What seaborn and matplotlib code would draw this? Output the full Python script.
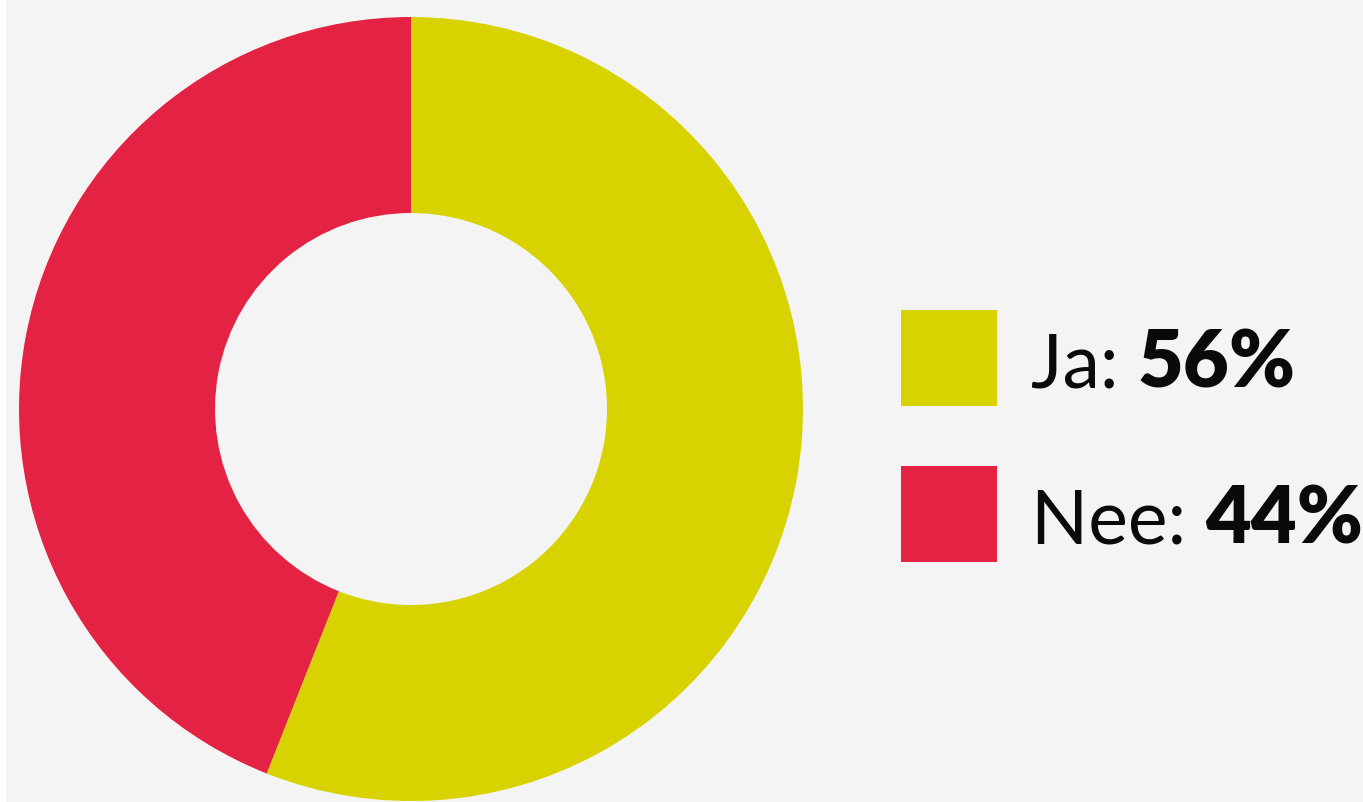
import matplotlib
matplotlib.use("Agg")
import matplotlib.pyplot as plt
import seaborn as sns
from matplotlib.patches import Rectangle

sns.set_theme(style="white")
plt.rcParams['font.family'] = ['Lato', 'DejaVu Sans']

# data
labels = ['Ja', 'Nee']
values = [56, 44]
colors = ['#D8D300', '#E42244']
bg = '#F4F4F4'

W, H = 1363, 802
fig = plt.figure(figsize=(W / 100, H / 100), dpi=100, facecolor=bg)
# white strip at the left edge
fig.patches.append(Rectangle((0, 0), 6 / W, 1, transform=fig.transFigure,
                             facecolor='white', edgecolor='none', zorder=-1))

ax = fig.add_axes([19 / W, 1 / H, 784 / W, 784 / H])
ax.set_facecolor(bg)
ax.pie(values, colors=colors, startangle=90, counterclock=False,
       wedgeprops=dict(width=0.5, edgecolor='none'))
ax.set_xlim(-1, 1)
ax.set_ylim(-1, 1)
ax.set_aspect('equal')
ax.axis('off')

# legend
sq = 96
x0 = 901
tops = [310, 466]
for lab, val, col, top in zip(labels, values, colors, tops):
    fig.patches.append(Rectangle((x0 / W, (H - top - sq) / H), sq / W, sq / H,
                                 transform=fig.transFigure, facecolor=col,
                                 edgecolor='none'))
    ybase = (H - (top + sq / 2 + 30)) / H
    t = fig.text(1031 / W, ybase, f'{lab}: ', fontsize=54, color='#0A0A0A',
                 fontweight='normal', va='baseline', ha='left')
    ax.annotate(f'{val}%', xy=(1, 0), xycoords=t, fontsize=57,
                fontweight='heavy', color='#0A0A0A', va='bottom', ha='left',
                annotation_clip=False)

fig.savefig('out.png', dpi=100, facecolor=bg)
